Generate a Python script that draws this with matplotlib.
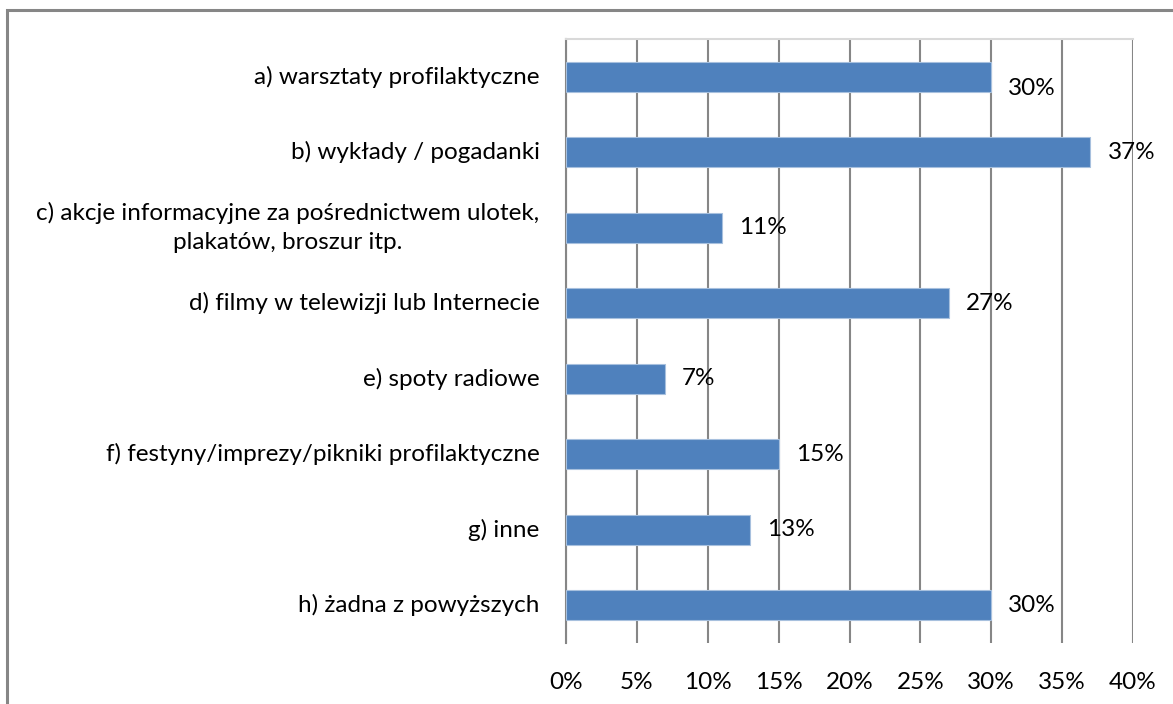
import matplotlib
matplotlib.use("Agg")
import matplotlib.pyplot as plt
from matplotlib.patches import Rectangle
from matplotlib.ticker import FuncFormatter, MultipleLocator

categories = [
    "a) warsztaty profilaktyczne",
    "b) wykłady / pogadanki",
    "c) akcje informacyjne za pośrednictwem ulotek,\nplakatów, broszur itp.",
    "d) filmy w telewizji lub Internecie",
    "e) spoty radiowe",
    "f) festyny/imprezy/pikniki profilaktyczne",
    "g) inne",
    "h) żadna z powyższych",
]
values = [30, 37, 11, 27, 7, 15, 13, 30]

plt.rcParams["font.family"] = ["Lato", "DejaVu Sans"]
fs = 17.5

fig = plt.figure(figsize=(11.73, 7.04), dpi=100)
ax = fig.add_axes([566 / 1173, 1 - 643 / 704, (1133 - 566) / 1173, (643 - 39) / 704])

# frame around the whole chart
fig.patches.append(Rectangle((7 / 1173, -0.1), 1.2, 1 - 10 / 704 + 0.1,
                             transform=fig.transFigure, fill=False,
                             edgecolor="#868686", linewidth=2.2))

y = list(range(len(categories)))
ax.barh(y, values, height=0.4, color="#4F81BD", edgecolor="#A7C0DE", linewidth=0.8, zorder=3)

for i, v in enumerate(values):
    dy = 0.16 if i == 0 else 0
    ax.text(v + 1.2, i + dy, f"{v}%", va="center", ha="left", fontsize=fs, zorder=4)

# category names, drawn as annotations so the wrapped one gets wider line spacing
for i, name in enumerate(categories):
    ax.annotate(name, xy=(0, i), xycoords=("axes fraction", "data"),
                xytext=(-19, 0), textcoords="offset points",
                ha="right", va="center", multialignment="center",
                linespacing=1.45, fontsize=fs)

ax.set_xlim(0, 40)
ax.set_ylim(len(categories) - 0.5, -0.5)
ax.xaxis.set_major_locator(MultipleLocator(5))
ax.xaxis.set_major_formatter(FuncFormatter(lambda x, _: f"{x:.0f}%"))
ax.set_yticks([])
ax.tick_params(axis="x", length=0, pad=21, labelsize=fs)

ax.grid(axis="x", color="#868686", linewidth=1.5, zorder=0)
ax.set_axisbelow(True)
for side in ["bottom", "right"]:
    ax.spines[side].set_visible(False)
ax.spines["top"].set_color("#D9D9D9")
ax.spines["top"].set_linewidth(1.5)
ax.spines["left"].set_color("#868686")
ax.spines["left"].set_linewidth(1.5)

fig.savefig("out.png", dpi=100)
